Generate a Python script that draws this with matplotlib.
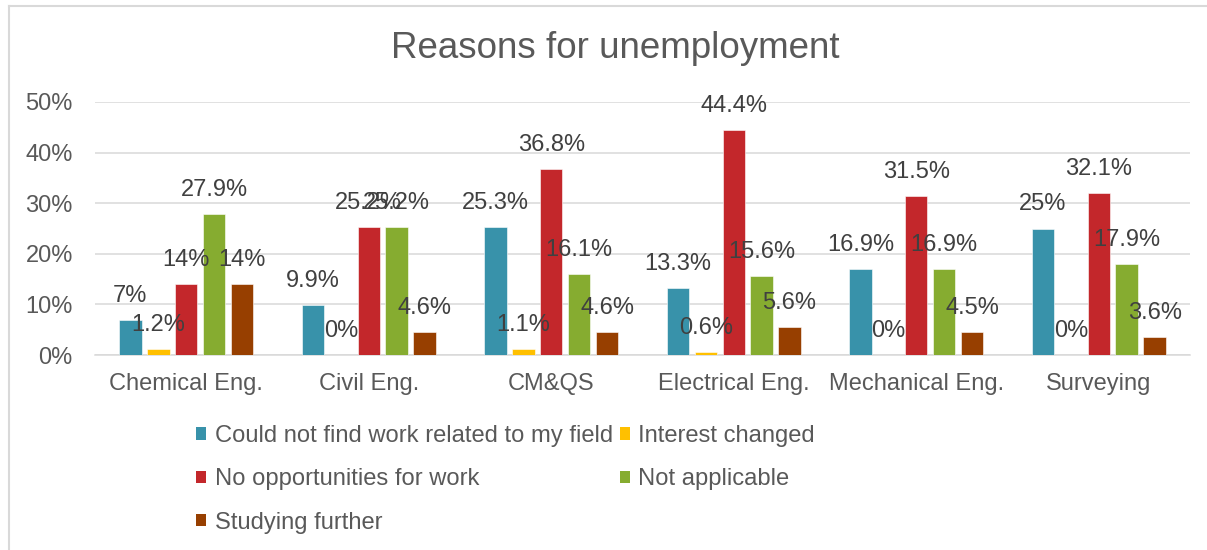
import matplotlib
matplotlib.use("Agg")
import matplotlib.pyplot as plt
import numpy as np
from matplotlib.lines import Line2D
from matplotlib.patches import Patch
from matplotlib.ticker import PercentFormatter, MultipleLocator

categories = ["Chemical Eng.", "Civil Eng.", "CM&QS", "Electrical Eng.",
              "Mechanical Eng.", "Surveying"]
reasons = ["Could not find work related to my field", "Interest changed",
           "No opportunities for work", "Not applicable", "Studying further"]

could_not_find = [7, 9.9, 25.3, 13.3, 16.9, 25]
interest_changed = [1.2, 0, 1.1, 0.6, 0, 0]
no_opportunities = [14, 25.2, 36.8, 44.4, 31.5, 32.1]
not_applicable = [27.9, 25.2, 16.1, 15.6, 16.9, 17.9]
studying_further = [14, 4.6, 4.6, 5.6, 4.5, 3.6]

series = [could_not_find, interest_changed, no_opportunities,
          not_applicable, studying_further]
colors = ["#3892AA", "#FFC000", "#C3272B", "#86AC30", "#973F00"]

plt.rcParams["font.family"] = ["Liberation Sans", "DejaVu Sans"]
TXT = "#404040"
GREY = "#595959"
GRID = "#d9d9d9"

fig = plt.figure(figsize=(12.07, 5.5), dpi=100)
ax = fig.add_axes([95 / 1207, 195 / 550, 1095 / 1207, 253 / 550])

x = np.arange(len(categories))
width = 0.123
step = 0.153
for i, (vals, col) in enumerate(zip(series, colors)):
    pos = x + (i - 2) * step
    bars = ax.bar(pos, vals, width, color=col, edgecolor="white", linewidth=0.4,
                  zorder=3, label=reasons[i])
    for b, v in zip(bars, vals):
        ax.annotate(f"{v:g}%", (b.get_x() + b.get_width() / 2, v),
                    xytext=(0, 17.3), textcoords="offset points",
                    ha="center", va="center", fontsize=17, color=TXT, zorder=4)

ax.set_xlim(-0.5, len(categories) - 0.5)
ax.set_ylim(0, 50)
ax.yaxis.set_major_locator(MultipleLocator(10))
ax.yaxis.set_major_formatter(PercentFormatter(decimals=0))
ax.set_xticks(x)
ax.set_xticklabels(categories)
ax.tick_params(axis="y", length=0, pad=16, labelsize=17, labelcolor=GREY)
ax.tick_params(axis="x", length=0, pad=13, labelsize=17, labelcolor=GREY)
ax.grid(axis="y", color=GRID, lw=1.1, zorder=0)
for s in ["top", "right", "left"]:
    ax.spines[s].set_visible(False)
ax.spines["bottom"].set_color(GRID)
ax.spines["bottom"].set_linewidth(1.1)

fig.text(615 / 1207, 1 - 58 / 550, "Reasons for unemployment", ha="center",
         va="baseline", fontsize=26.5, color=GREY)

# legend goes row by row: put first-column items first
order = [0, 2, 4, 1, 3]
handles = [Patch(facecolor=colors[i]) for i in order]
labels = [reasons[i] for i in order]
leg = fig.legend(handles, labels, ncol=2, loc="upper left",
                 bbox_to_anchor=(196 / 1207, 1 - 425 / 550), frameon=False,
                 borderpad=0, borderaxespad=0, handlelength=0.42,
                 handleheight=0.42, handletextpad=0.36, columnspacing=0.3,
                 labelspacing=0.9, fontsize=17.1)
for t in leg.get_texts():
    t.set_color(GREY)

# chart border (only the left and top edges are inside the frame)
fig.add_artist(Line2D([8.5 / 1207, 8.5 / 1207], [0, 1 - 5.5 / 550],
                      color=GRID, lw=1.5, transform=fig.transFigure))
fig.add_artist(Line2D([8.5 / 1207, 1], [1 - 5.5 / 550, 1 - 5.5 / 550],
                      color=GRID, lw=1.5, transform=fig.transFigure))

fig.savefig("out.png", dpi=100)
